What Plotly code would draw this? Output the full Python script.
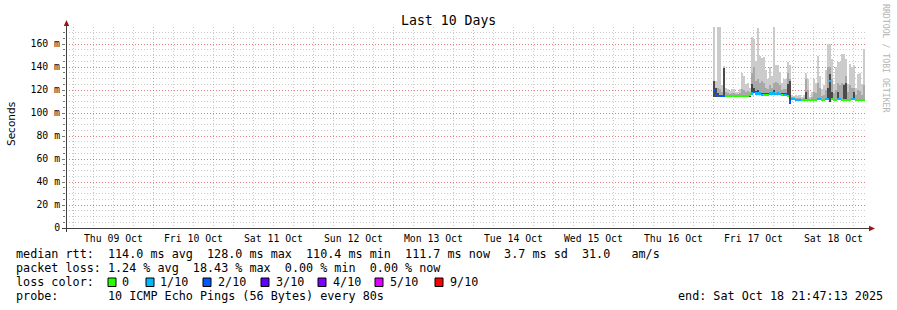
import plotly.graph_objects as go
import pandas as pd

# ---------------- data ----------------
end_time = "2025-10-18 21:47:13"
data_start = "2025-10-17 00:00:00"
step_minutes = 36

median = [120, 116, 115, 115, 115, 115, 115, 115, 115, 115,
          115, 115, 115, 115, 115, 115, 115, 115, 115.5, 117,
          118, 117, 117, 117, 116, 116, 116, 116, 117, 117,
          117, 116.5, 117, 116.5, 116, 116, 116, 115, 110, 112,
          112, 111.5, 111.5, 111.5, 111.5, 111.5, 111.5, 111.5, 111.5, 111.5,
          111.5, 111.5, 112, 112, 111.5, 111.5, 112, 112.5, 128, 112,
          111.5, 111.5, 112, 112, 111.5, 111.5, 111.5, 111.5, 111.5, 112,
          112, 111.5, 111.5, 111.5, 111.5, 111.5]

loss = [2, 2, 2, 2, 2, 2, 0, 0, 0, 0,
        0, 0, 0, 0, 0, 0, 0, 0, 0, 1,
        2, 1, 1, 1, 1, 0, 0, 0, 1, 1,
        1, 1, 1, 1, 0, 1, 1, 0, 2, 1,
        1, 1, 1, 1, 0, 0, 0, 0, 0, 0,
        0, 0, 1, 1, 0, 0, 1, 1, 1, 0,
        0, 0, 1, 1, 0, 0, 0, 0, 0, 1,
        1, 0, 0, 0, 0, 0]

smoke_max = [175, 128, 175, 175, 124, 141, 122, 121, 119, 121,
             121, 118, 118, 121, 135, 132, 125, 126, 122, 166,
             164, 145, 174, 150, 148, 149, 137, 130, 140, 132,
             175, 142, 142, 136, 126, 130, 130, 144, 142, 116,
             115, 116, 115, 116, 114, 116, 135, 130, 114, 118,
             130, 126, 150, 132, 121, 124, 137, 160, 160, 147,
             125, 140, 144, 144, 151, 151, 147, 125, 143, 140,
             142, 122, 134, 135, 125, 156]

smoke_mid = [125, 120, 122, 121, 118, 139.5, 118, 117, 116.5, 117,
             117, 116.5, 116.5, 117, 121, 120, 118, 119, 118, 135,
             140, 128, 130, 126, 128, 126, 122, 121, 124, 122,
             126, 127, 126, 124, 120, 121, 121, 135, 130, 113.5,
             113.5, 113, 113, 113, 112.5, 113, 130, 120, 112.5, 114,
             118, 117, 126, 122, 115, 116, 120, 140, 140, 130,
             117, 120, 126, 124, 126, 125, 132, 118, 124, 122,
             122, 116, 120, 119, 116, 124]

smoke_dark = [128, 122, 117, 116, 116, 139, 116, 116, 116, 116,
              116, 116, 116, 116, 116, 116, 116, 116, 116.5, 125,
              122, 119, 120, 118, 117, 117, 117, 117, 118, 118,
              120, 117.5, 118, 117.5, 117, 117, 117, 125, 128, 113,
              113, 112.5, 112.5, 112.5, 112.5, 112.5, 118, 112.5, 112.5, 112.5,
              112.5, 112.5, 113, 113, 112.5, 112.5, 113, 122, 134, 118,
              112.5, 112.5, 118, 113, 112.5, 124, 126, 112.5, 112.5, 113,
              118, 112.5, 112.5, 112.5, 112.5, 112.5]

smoke_min = [114, 114, 114, 114, 114, 114, 114, 114, 114, 114,
             114, 114, 114, 114, 114, 114, 114, 114, 114, 116,
             117, 116, 116, 116, 115, 115, 115, 115, 116, 116,
             116, 115.5, 116, 115.5, 115, 115, 115, 114, 108, 111,
             111, 110.5, 110.5, 110.5, 110.5, 110.5, 110.5, 110.5, 110.5, 110.5,
             110.5, 110.5, 111, 111, 110.5, 110.5, 111, 111.5, 110, 111,
             110.5, 110.5, 111, 111, 110.5, 110.5, 110.5, 110.5, 110.5, 111,
             111, 110.5, 110.5, 110.5, 110.5, 110.5]

y_tick_vals = [0, 20, 40, 60, 80, 100, 120, 140, 160]
y_tick_text = ["0", "20 m", "40 m", "60 m", "80 m", "100 m", "120 m", "140 m", "160 m"]

loss_labels = ["0", "1/10", "2/10", "3/10", "4/10", "5/10", "9/10"]
loss_colors = ["#26ff00", "#00b8ff", "#0059ff", "#5e00ff", "#7e00ff", "#dd00ff", "#ff0000"]

stats_line1 = "median rtt:  114.0 ms avg  128.0 ms max  110.4 ms min  111.7 ms now  3.7 ms sd  31.0   am/s"
stats_line2 = "packet loss: 1.24 % avg  18.43 % max  0.00 % min  0.00 % now"
probe_line = "probe:       10 ICMP Echo Pings (56 Bytes) every 80s"
end_line = "end: Sat Oct 18 21:47:13 2025"

# ---------------- layout helpers ----------------
W, H = 897, 310
ML, MR, MT, MB = 66, 31, 27, 82
PW, PH = W - ML - MR, H - MT - MB


def px(x):
    return (x - ML) / PW


def py(y):
    return (H - MB - y) / PH


end_ts = pd.Timestamp(end_time)
start_ts = end_ts - pd.Timedelta(days=10)
step = pd.Timedelta(minutes=step_minutes)
n = len(median)
xs = pd.date_range(pd.Timestamp(data_start) + step / 2, periods=n, freq=step)
bar_w = step.total_seconds() * 1000

fig = go.Figure()


def band(top, bottom, color):
    fig.add_trace(go.Bar(
        x=xs, y=[t - b for t, b in zip(top, bottom)], base=bottom,
        width=bar_w, marker=dict(color=color, line=dict(width=0)),
        hoverinfo="skip", showlegend=False))


band(smoke_max, smoke_min, "#cbcbcb")
band(smoke_mid, smoke_min, "#a8a8a8")
band(smoke_dark, smoke_min, "#4a4a4a")

fig.add_trace(go.Bar(
    x=xs, y=[1.8] * n, base=[m - 0.9 for m in median], width=bar_w,
    marker=dict(color=[loss_colors[l] for l in loss], line=dict(width=0)),
    hoverinfo="skip", showlegend=False))

mono = "DejaVu Sans Mono"

fig.update_layout(
    width=W, height=H,
    margin=dict(l=ML, r=MR, t=MT, b=MB, pad=0),
    paper_bgcolor="white", plot_bgcolor="white",
    barmode="overlay", bargap=0,
    showlegend=False,
    font=dict(family=mono, size=10, color="#000"),
)

fig.update_xaxes(
    type="date",
    range=[start_ts, end_ts],
    tick0="2025-10-09", dtick=86400000,
    ticklabelmode="period", tickformat="%a %d %b",
    ticks="", showline=False, zeroline=False,
    ticklabelstandoff=3,
    showgrid=True, gridcolor="rgba(255,0,0,0.38)", griddash="1px,2px", gridwidth=1,
    tickfont=dict(family=mono, size=9.8, color="#000"),
    minor=dict(tick0="2025-10-09", dtick=6 * 3600 * 1000, showgrid=True,
               gridcolor="rgba(128,128,128,0.42)", griddash="1px,2px", gridwidth=1,
               ticks=""),
    fixedrange=True,
)

fig.update_yaxes(
    range=[0, 174.8],
    tickmode="array", tickvals=y_tick_vals, ticktext=y_tick_text,
    ticks="outside", ticklen=3, tickcolor="#777",
    showline=False, zeroline=False,
    showgrid=True, gridcolor="rgba(255,0,0,0.38)", griddash="1px,2px", gridwidth=1,
    tickfont=dict(family=mono, size=9.8, color="#000"),
    minor=dict(tickmode="linear", tick0=0, dtick=5, showgrid=True,
               gridcolor="rgba(128,128,128,0.42)", griddash="1px,2px", gridwidth=1,
               ticks="outside", ticklen=2, tickcolor="#777"),
    fixedrange=True,
)

shapes = []
# axis lines
shapes.append(dict(type="line", xref="paper", yref="paper",
                   x0=px(66.5), x1=px(66.5), y0=py(232), y1=py(24),
                   line=dict(color="#404040", width=1)))
shapes.append(dict(type="line", xref="paper", yref="paper",
                   x0=px(62), x1=px(870), y0=py(228.5), y1=py(228.5),
                   line=dict(color="#404040", width=1)))
# arrows
shapes.append(dict(type="path", xref="paper", yref="paper",
                   path=f"M {px(66.5)},{py(20)} L {px(63.8)},{py(26)} L {px(69.2)},{py(26)} Z",
                   fillcolor="#9b1515", line=dict(width=0)))
shapes.append(dict(type="path", xref="paper", yref="paper",
                   path=f"M {px(875)},{py(228.5)} L {px(869)},{py(225.8)} L {px(869)},{py(231.2)} Z",
                   fillcolor="#9b1515", line=dict(width=0)))

annotations = []


def txt(x, y, s, size=11.75, color="#000", family=mono, anchor="left", angle=0):
    annotations.append(dict(x=px(x), y=py(y), xref="paper", yref="paper", text=s,
                            showarrow=False, xanchor=anchor, yanchor="middle",
                            textangle=angle, borderpad=0,
                            font=dict(family=family, size=size, color=color)))


txt(448, 20, "Last 10 Days", size=13.2, anchor="center")
txt(11, 124, "Seconds", size=10.5, family="DejaVu Sans", anchor="center", angle=-90)
txt(886, 59, "RRDTOOL / TOBI OETIKER", size=8.2, color="#b4b4b4", anchor="center", angle=90)

txt(15, 254, stats_line1)
txt(15, 268, stats_line2)
txt(15, 282, "loss color:")
sq_x = [108, 146, 203, 261, 318, 375, 435]
lab_x = [121, 159, 217, 275, 332, 389, 449]
for sx, lx, lab, col in zip(sq_x, lab_x, loss_labels, loss_colors):
    shapes.append(dict(type="rect", xref="paper", yref="paper",
                       x0=px(sx), x1=px(sx + 8), y0=py(286.5), y1=py(278),
                       fillcolor=col, line=dict(color="#000", width=1)))
    txt(lx, 282, lab)
txt(15, 296, probe_line)
txt(677, 296, end_line)

fig.update_layout(shapes=shapes, annotations=annotations)

fig.write_html("out.html")
